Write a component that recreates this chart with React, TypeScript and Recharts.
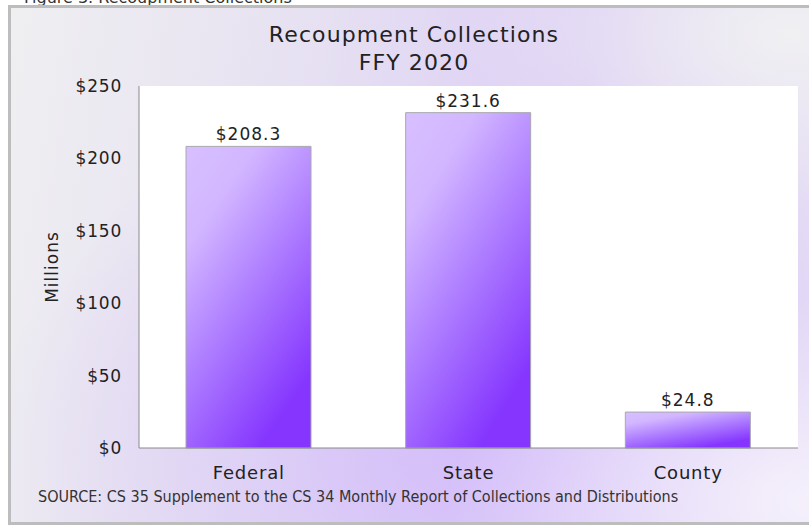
import React from "react";
import { BarChart, Bar, XAxis, YAxis, CartesianGrid, LabelList } from "recharts";

const categories = ["Federal", "State", "County"];
const collections = [208.3, 231.6, 24.8];
const yTicks = [0, 50, 100, 150, 200, 250];

const data = categories.map((name, i) => ({ name, value: collections[i] }));

const FONT = "'DejaVu Sans', sans-serif";

export default function App() {
  return (
    <div
      style={{
        position: "absolute",
        left: 0,
        top: 0,
        width: 809,
        height: 525,
        overflow: "hidden",
        background: "#ffffff",
        fontFamily: FONT,
      }}
    >
      <div
        style={{
          position: "absolute",
          left: 24,
          top: -12,
          fontSize: 16,
          color: "#333",
          whiteSpace: "nowrap",
        }}
      >
        Figure 3. Recoupment Collections
      </div>
      <div
        style={{
          position: "absolute",
          left: 8,
          top: 5,
          width: 820,
          height: 514,
          border: "3px solid #bdbdbd",
          backgroundColor: "#eeeef0",
          backgroundImage:
            "radial-gradient(ellipse 45% 40% at 98% 96%, rgba(246,242,252,0.95) 0%, rgba(246,242,252,0) 100%), radial-gradient(ellipse 60% 70% at 58% 85%, rgba(211,188,250,0.95) 0%, rgba(216,198,248,0.5) 55%, rgba(230,222,245,0) 100%), radial-gradient(ellipse 40% 35% at 95% 5%, rgba(240,240,242,1) 0%, rgba(240,240,242,0) 100%), linear-gradient(100deg, #efeff1 0%, #e6e0f2 35%, #dccdf6 65%, #e8e2f4 100%)",
        }}
      />
      <div
        style={{
          position: "absolute",
          left: 0,
          top: 21,
          width: 828,
          textAlign: "center",
          fontSize: 22,
          letterSpacing: 1.1,
          color: "#222",
          lineHeight: "28px",
        }}
      >
        <div>Recoupment Collections</div>
        <div>FFY 2020</div>
      </div>
      <div
        style={{
          position: "absolute",
          left: 38,
          top: 487,
          fontSize: 16,
          color: "#333",
          whiteSpace: "nowrap",
          fontFamily: "'DejaVu Sans Condensed', 'DejaVu Sans', sans-serif",
          fontStretch: "condensed",
        }}
      >
        SOURCE: CS 35 Supplement to the CS 34 Monthly Report of Collections and Distributions
      </div>
      <div style={{ position: "absolute", left: 0, top: 0 }}>
        <BarChart
          width={809}
          height={525}
          data={data}
          margin={{ top: 86, right: 11, bottom: 30, left: 40 }}
        >
          <defs>
            <linearGradient id="barGrad" x1="0" y1="0" x2="0.6" y2="1">
              <stop offset="0" stopColor="#d8c0ff" />
              <stop offset="0.25" stopColor="#d2b6ff" />
              <stop offset="0.6" stopColor="#ac7aff" />
              <stop offset="1" stopColor="#8535fe" />
            </linearGradient>
          </defs>
          <CartesianGrid horizontal={false} vertical={false} fill="#ffffff" />
          <XAxis
            dataKey="name"
            height={47}
            tickLine={false}
            axisLine={{ stroke: "#8a8a8a" }}
            tick={{ fill: "#222", fontSize: 18, fontFamily: FONT, letterSpacing: 0.8 }}
            tickMargin={12}
          />
          <XAxis
            xAxisId="top"
            dataKey="name"
            orientation="top"
            height={0}
            tick={false}
            tickLine={false}
            axisLine={{ stroke: "#8a8a8a" }}
          />
          <YAxis
            domain={[0, 250]}
            ticks={yTicks}
            width={99}
            tickLine={false}
            axisLine={{ stroke: "#8a8a8a" }}
            tickFormatter={(v: number) => `$${v}`}
            tick={{ fill: "#222", fontSize: 17, fontFamily: FONT, letterSpacing: 0.8 }}
            tickMargin={11}
            label={{
              value: "Millions",
              angle: -90,
              position: "insideLeft",
              offset: 12,
              style: { fill: "#222", fontSize: 17, fontFamily: FONT, textAnchor: "middle", letterSpacing: 1 },
            }}
          />
          <YAxis
            yAxisId="right"
            orientation="right"
            width={0}
            tick={false}
            tickLine={false}
            axisLine={{ stroke: "#8a8a8a" }}
          />
          <Bar
            dataKey="value"
            barSize={125}
            fill="url(#barGrad)"
            stroke="#a8a8b0"
            strokeWidth={1}
            isAnimationActive={false}
          >
            <LabelList
              dataKey="value"
              position="top"
              offset={6}
              formatter={(v: number) => `$${v.toFixed(1)}`}
              style={{ fill: "#222", fontSize: 17, fontFamily: FONT, letterSpacing: 1 }}
            />
          </Bar>
        </BarChart>
      </div>
    </div>
  );
}
